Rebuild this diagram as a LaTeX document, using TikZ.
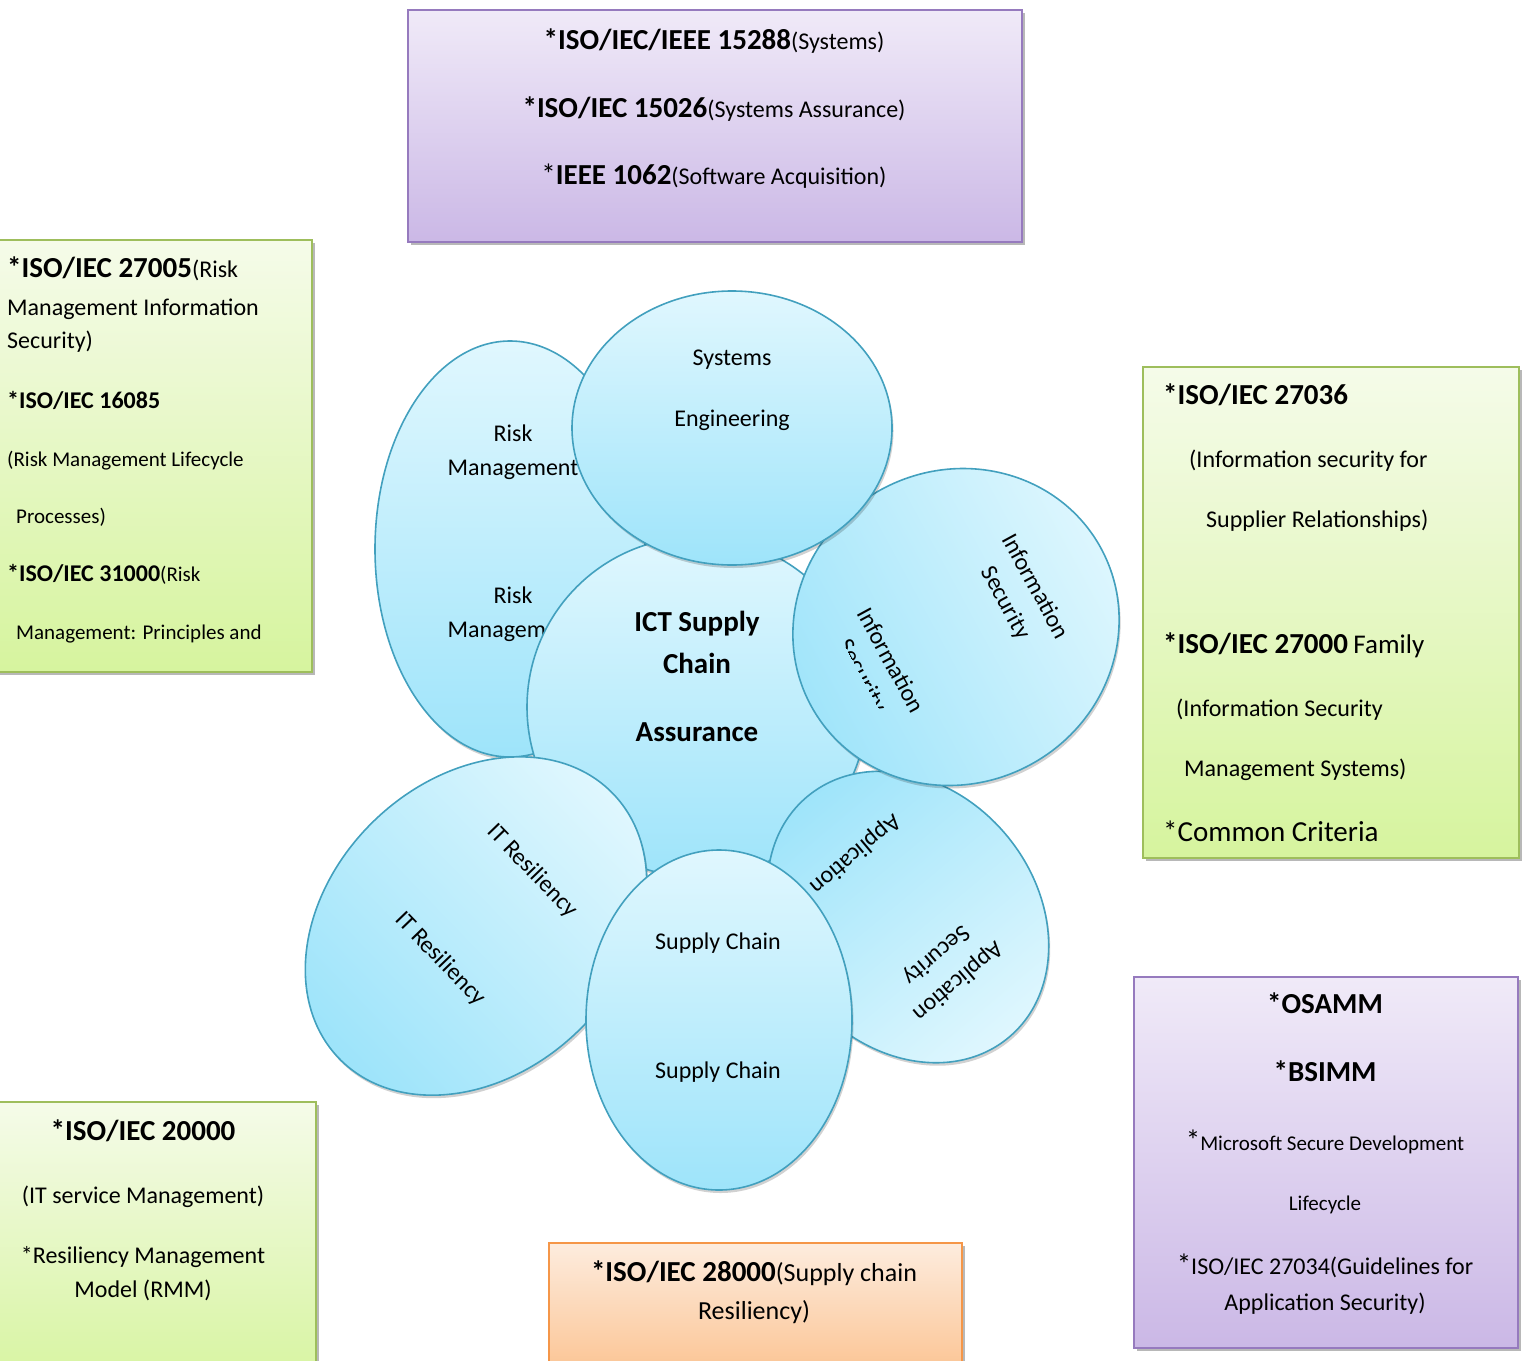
\documentclass[tikz,border=0pt]{standalone}
\usepackage{fontspec}
\setmainfont{Carlito}
\usetikzlibrary{shapes.geometric,shadows}
\definecolor{bubline}{RGB}{66,160,190}
\definecolor{bubtop}{RGB}{224,247,254}
\definecolor{bubbot}{RGB}{158,228,250}
\definecolor{purline}{RGB}{150,122,190}
\definecolor{purtop}{RGB}{240,234,248}
\definecolor{purbot}{RGB}{203,184,230}
\definecolor{grnline}{RGB}{158,190,92}
\definecolor{grntop}{RGB}{245,251,233}
\definecolor{grnbot}{RGB}{214,244,158}
\definecolor{orgline}{RGB}{245,150,72}
\definecolor{orgtop}{RGB}{253,236,222}
\definecolor{orgbot}{RGB}{251,190,136}
\newcommand{\szbig}{\fontsize{29}{35}\selectfont}
\newcommand{\sznorm}{\fontsize{24}{34}\selectfont}
\newcommand{\szsmall}{\fontsize{21}{26}\selectfont}
\newcommand{\szorg}{\fontsize{26}{32}\selectfont}
\newcommand{\szfam}{\fontsize{27}{32}\selectfont}
\tikzset{
  boxbase/.style={rectangle, anchor=north west, inner sep=0pt, line width=1.8pt,
    drop shadow={shadow xshift=3pt, shadow yshift=-3pt, opacity=0.28, fill=black}},
  purbox/.style={boxbase, draw=purline, top color=purtop, bottom color=purbot},
  grnbox/.style={boxbase, draw=grnline, top color=grntop, bottom color=grnbot},
  orgbox/.style={boxbase, draw=orgline, top color=orgtop, bottom color=orgbot},
  bub/.style={ellipse, inner sep=0pt, draw=bubline, line width=1.6pt,
    top color=bubtop, bottom color=bubbot,
    drop shadow={shadow xshift=1.5pt, shadow yshift=-3pt, opacity=0.18, fill=black}},
  txt/.style={inner sep=0pt, anchor=base, font=\sznorm},
  txtl/.style={inner sep=0pt, anchor=base west, font=\sznorm},
  blbl/.style={inner sep=0pt, align=center, font=\sznorm},
}
\begin{document}
\begin{tikzpicture}[x=1pt, y=-1pt]
\useasboundingbox (0,0) rectangle (1525,1360);
\clip (0,0) rectangle (1525,1360);

% ---------- boxes ----------
\node[purbox, minimum width=614, minimum height=232] (topbox) at (407,9) {};
\node[txt] (tb1) at (714,49) {{\bfseries\szbig *ISO/IEC/IEEE 15288}(Systems)};
\node[txt] (tb2) at (714,117) {{\bfseries\szbig *ISO/IEC 15026}(Systems Assurance)};
\node[txt] (tb3) at (714,184) {{\szbig *}{\bfseries\szbig IEEE 1062}(Software Acquisition)};

\node[grnbox, minimum width=321, minimum height=432] (ltbox) at (-10,239) {};
\node[txtl] (lt1) at (7,277) {{\bfseries\szbig *ISO/IEC 27005}(Risk};
\node[txtl] (lt2) at (7,315) {Management Information};
\node[txtl] (lt3) at (7,348) {Security)};
\node[txtl] (lt4) at (7,408) {\bfseries *ISO/IEC 16085};
\node[txtl, font=\szsmall] (lt5) at (7,466) {(Risk Management Lifecycle};
\node[txtl, font=\szsmall] (lt6) at (16,523) {Processes)};
\node[txtl] (lt7) at (7,581) {{\bfseries *ISO/IEC 31000}{\szsmall(Risk}};
\node[txtl, font=\szsmall] (lt8) at (16,639) {Management: Principles and};

\node[grnbox, minimum width=376, minimum height=491] (rbox) at (1142,366) {};
\node[txtl] (r1) at (1163,404) {\bfseries\szbig *ISO/IEC 27036};
\node[txtl] (r2) at (1189,467) {(Information security for};
\node[txtl] (r3) at (1206,527) {Supplier Relationships)};
\node[txtl] (r4) at (1163,653) {{\bfseries\szbig *ISO/IEC 27000} {\szfam Family}};
\node[txtl] (r5) at (1176,716) {(Information Security};
\node[txtl] (r6) at (1184,776) {Management Systems)};
\node[txtl, font=\szbig] (r7) at (1163,841) {*Common Criteria};

\node[purbox, minimum width=384, minimum height=371] (brbox) at (1133,976) {};
\node[txt] (br1) at (1325,1013) {\bfseries\szbig *OSAMM};
\node[txt] (br2) at (1325,1081) {\bfseries\szbig *BSIMM};
\node[txt] (br3) at (1325,1150) {{\szbig *}{\szsmall Microsoft Secure Development}};
\node[txt, font=\szsmall] (br4) at (1325,1210) {Lifecycle};
\node[txt] (br5) at (1325,1274) {{\szbig *}ISO/IEC 27034(Guidelines for};
\node[txt] (br6) at (1325,1310) {Application Security)};

\node[grnbox, minimum width=325, minimum height=290] (blbox) at (-10,1101) {};
\node[txt] (bl1) at (143,1140) {\bfseries\szbig *ISO/IEC 20000};
\node[txt] (bl2) at (143,1203) {(IT service Management)};
\node[txt] (bl3) at (143,1263) {*Resiliency Management};
\node[txt] (bl4) at (143,1297) {Model (RMM)};

\node[orgbox, minimum width=413, minimum height=150] (obox) at (548,1242) {};
\node[txt, font=\szorg] (o1) at (754,1281) {{\bfseries\szbig *ISO/IEC 28000}(Supply chain};
\node[txt, font=\szorg] (o2) at (754,1319) {Resiliency)};

% ---------- bubbles ----------
\node[bub, minimum width=270, minimum height=416] (rm) at (510,549) {};
\node[blbl] (rmt1) at (513,452) {Risk\\Management};
\node[blbl] (rmt2) at (513,614) {Risk\\Management};

\node[bub, minimum width=340, minimum height=340] (ict) at (697,707) {};
\node[txt, font=\bfseries\szbig] (ict1) at (697,631) {ICT Supply};
\node[txt, font=\bfseries\szbig] (ict2) at (697,673) {Chain};
\node[txt, font=\bfseries\szbig] (ict3) at (697,741) {Assurance};

\node[bub, shading angle=-140, minimum width=256, minimum height=314, rotate=-140] (as) at (908,917) {};
\node[blbl, rotate=-140] (ast1) at (855,854) {Application};
\node[blbl, rotate=-140] (ast2) at (947,968) {Application\\Security};

\node[bub, shading angle=-61.5, minimum width=313, minimum height=330, rotate=-61.5] (is) at (956,627) {};
\node[blbl, rotate=-61.5] (ist1) at (1020,595) {Information\\Security};
\begin{scope}[shift={(884,664)}, rotate=-61.5]
  \clip (-120,-50) rectangle (120,26);
  \node[txt, rotate=-61.5] (ist2) at (0,0) {Information};
  \node[txt, rotate=-61.5] (ist3) at (0,32) {Security};
\end{scope}

\node[bub, minimum width=320, minimum height=274] (se) at (732,428) {};
\node[txt] (se1) at (732,365) {Systems};
\node[txt] (se2) at (732,426) {Engineering};

\node[bub, shading angle=-46, minimum width=293, minimum height=381, rotate=-46] (itr) at (476,926) {};
\node[blbl, rotate=-46] (itr1) at (532,871) {IT Resiliency};
\node[blbl, rotate=-46] (itr2) at (440,959) {IT Resiliency};

\node[bub, minimum width=266, minimum height=340] (sc) at (719,1020) {};
\node[txt] (sc1) at (718,949) {Supply Chain};
\node[txt] (sc2) at (718,1078) {Supply Chain};
\end{tikzpicture}
\end{document}
